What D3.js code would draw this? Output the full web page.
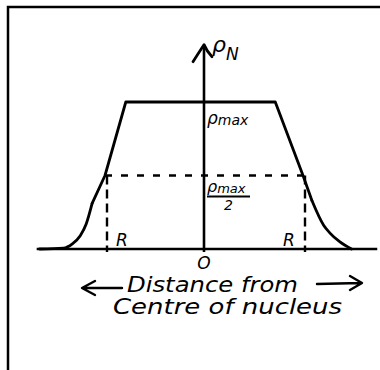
<!DOCTYPE html>
<html>
<head>
<meta charset="utf-8">
<script src="https://cdn.jsdelivr.net/npm/d3@7"></script>
<style>
  html, body { margin: 0; padding: 0; background: #fff; }
  svg { display: block; }
  text { font-family: "DejaVu Sans", sans-serif; fill: #000; }
</style>
</head>
<body>
<svg id="chart" width="380" height="370"></svg>
<script>
// Nuclear density profile: distance from centre (in units of R) and density (in units of rho_max)
const radius  = [-1.66, -1.42, -1.33, -1.25, -1.19, -1.13, -1.0, -0.79, 0.72, 1.0, 1.09, 1.21, 1.27, 1.37, 1.49];
const density = [0.0,   0.006, 0.035, 0.09,  0.17,  0.31,  0.5,  1.0,   1.0,  0.5, 0.33, 0.16, 0.11, 0.05, 0.0];

// Reference levels and markers
const halfLevel = 0.5;
const radiusMarks = [-1, 1];
const radiusLabels = ["R", "R"];
const originLabel = "O";
const axisExtentX = [-1.69, 1.75];
const axisTopY = 1.39;

const svg = d3.select("#chart");

const x = d3.scaleLinear().domain([-1, 1]).range([105, 303]);
const y = d3.scaleLinear().domain([0, 1]).range([249, 102]);

// Outer frame
svg.append("rect")
  .attr("x", 8).attr("y", 7).attr("width", 400).attr("height", 400)
  .attr("fill", "none").attr("stroke", "#000").attr("stroke-width", 2.5);

// Horizontal axis
svg.append("line")
  .attr("x1", x(axisExtentX[0])).attr("x2", x(axisExtentX[1]))
  .attr("y1", y(0)).attr("y2", y(0))
  .attr("stroke", "#000").attr("stroke-width", 2.6);

// Vertical axis with arrowhead
const x0 = x(0);
const yTop = y(axisTopY);
svg.append("line")
  .attr("x1", x0).attr("x2", x0)
  .attr("y1", y(0) + 3).attr("y2", yTop)
  .attr("stroke", "#000").attr("stroke-width", 2.6);
svg.append("path")
  .attr("d", `M${x0 - 11},${yTop + 17} Q${x0 - 4},${yTop + 6} ${x0},${yTop} Q${x0 + 3},${yTop + 7} ${x0 + 8},${yTop + 12}`)
  .attr("fill", "none").attr("stroke", "#000").attr("stroke-width", 2.8)
  .attr("stroke-linecap", "round").attr("stroke-linejoin", "round");

// Half-maximum dashed level
const halfCross = [-1.0, 1.03];
svg.append("line")
  .attr("x1", x(halfCross[0])).attr("x2", x(halfCross[1]) + 5)
  .attr("y1", y(halfLevel)).attr("y2", y(halfLevel))
  .attr("stroke", "#000").attr("stroke-width", 2.4)
  .attr("stroke-dasharray", "7,9");

// Dashed drops at the radius R
svg.selectAll("line.rdrop")
  .data(radiusMarks)
  .join("line")
  .attr("class", "rdrop")
  .attr("x1", d => x(d) + 2).attr("x2", d => x(d) + 2)
  .attr("y1", y(halfLevel)).attr("y2", y(0) + 3)
  .attr("stroke", "#000").attr("stroke-width", 2.4)
  .attr("stroke-dasharray", "9,5");

// Density curve: smooth tails, straight-sided flat-topped core
const pts = radius.map((r, i) => [r, density[i]]);
const iKneeL = radius.indexOf(-1.13);
const iKneeR = radius.indexOf(1.09);
const segments = [
  { p: pts.slice(0, iKneeL + 1), c: d3.curveMonotoneX },
  { p: pts.slice(iKneeL, iKneeR + 1), c: d3.curveLinear },
  { p: pts.slice(iKneeR), c: d3.curveMonotoneX }
];
svg.selectAll("path.profile")
  .data(segments)
  .join("path")
  .attr("class", "profile")
  .attr("d", s => d3.line().x(d => x(d[0])).y(d => y(d[1])).curve(s.c)(s.p))
  .attr("fill", "none").attr("stroke", "#000").attr("stroke-width", 2.8)
  .attr("stroke-linejoin", "round").attr("stroke-linecap", "round");

// rho_N axis title
const yTitle = svg.append("text")
  .attr("x", x0 + 8).attr("y", yTop + 7)
  .attr("font-size", 22).attr("font-style", "italic");
yTitle.append("tspan").text("ρ");
yTitle.append("tspan").attr("font-size", 17).attr("dy", 8).text("N");

// rho_max label
const maxLabel = svg.append("text")
  .attr("x", x0 + 3).attr("y", y(1) + 22)
  .attr("font-size", 17).attr("font-style", "italic");
maxLabel.append("tspan").text("ρ");
maxLabel.append("tspan").attr("font-size", 14).attr("dy", 1).text("max");

// rho_max / 2 label
const yh = y(halfLevel);
const numLabel = svg.append("text")
  .attr("x", x0 + 3).attr("y", yh + 16)
  .attr("font-size", 16).attr("font-style", "italic");
numLabel.append("tspan").text("ρ");
numLabel.append("tspan").attr("font-size", 13).attr("dy", 1).text("max");
svg.append("line")
  .attr("x1", x0 + 3).attr("x2", x0 + 46)
  .attr("y1", yh + 21).attr("y2", yh + 21)
  .attr("stroke", "#000").attr("stroke-width", 2);
svg.append("text")
  .attr("x", x0 + 20).attr("y", yh + 34)
  .attr("font-size", 14).attr("font-style", "italic").text("2");

// R labels
svg.selectAll("text.rlab")
  .data(radiusMarks)
  .join("text")
  .attr("class", "rlab")
  .attr("x", d => d < 0 ? x(d) + 11 : x(d) - 20)
  .attr("y", y(0) - 3)
  .attr("font-size", 17).attr("font-style", "italic")
  .text((d, i) => radiusLabels[i]);

// Origin label
svg.append("text")
  .attr("x", x0).attr("y", y(0) + 20)
  .attr("text-anchor", "middle").attr("font-size", 17).attr("font-style", "italic")
  .text(originLabel);

// Horizontal axis title with arrows
svg.append("text")
  .attr("x", 127).attr("y", 292)
  .attr("font-size", 21).attr("font-style", "italic")
  .attr("textLength", 171).attr("lengthAdjust", "spacingAndGlyphs")
  .text("Distance from");
svg.append("text")
  .attr("x", 113).attr("y", 314)
  .attr("font-size", 21).attr("font-style", "italic")
  .attr("textLength", 229).attr("lengthAdjust", "spacingAndGlyphs")
  .text("Centre of nucleus");

svg.append("path")
  .attr("d", "M122,288 L84,288 M95,281 L82,288 L95,295")
  .attr("fill", "none").attr("stroke", "#000").attr("stroke-width", 2.4)
  .attr("stroke-linecap", "round").attr("stroke-linejoin", "round");
svg.append("path")
  .attr("d", "M317,284 L360,283 M350,276 L362,283 L350,290")
  .attr("fill", "none").attr("stroke", "#000").attr("stroke-width", 2.4)
  .attr("stroke-linecap", "round").attr("stroke-linejoin", "round");
</script>
</body>
</html>
